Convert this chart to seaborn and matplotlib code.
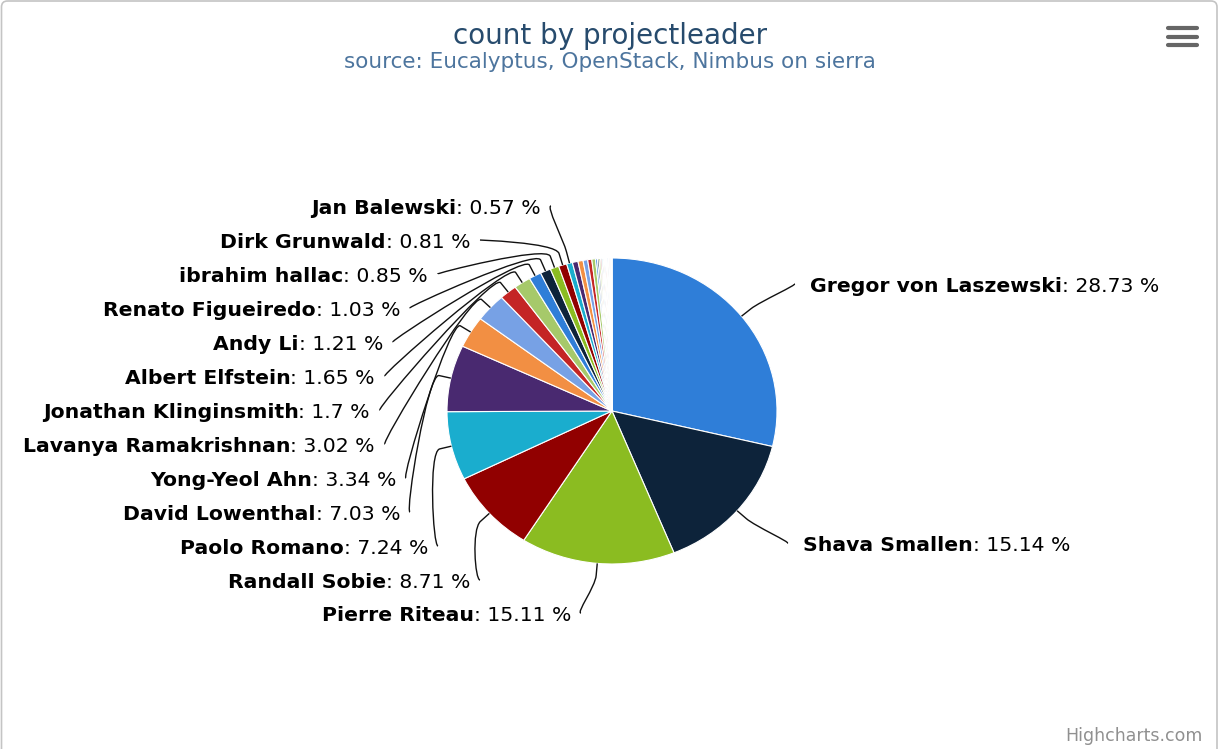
import matplotlib

matplotlib.use("Agg")
import matplotlib.pyplot as plt
import numpy as np
import seaborn as sns
from matplotlib.patches import FancyBboxPatch, PathPatch
from matplotlib.path import Path


W, H = 1219, 749

# Data: share of count per project leader (percent), clockwise from 12 o'clock
LEADERS = [
    "Gregor von Laszewski",
    "Shava Smallen",
    "Pierre Riteau",
    "Randall Sobie",
    "Paolo Romano",
    "David Lowenthal",
    "Yong-Yeol Ahn",
    "Lavanya Ramakrishnan",
    "Jonathan Klinginsmith",
    "Albert Elfstein",
    "Andy Li",
    "Renato Figueiredo",
    "ibrahim hallac",
    "Dirk Grunwald",
    "Jan Balewski",
]
SHARES = [28.73, 15.14, 15.11, 8.71, 7.24, 7.03, 3.34, 3.02, 1.7, 1.65, 1.21, 1.03, 0.85, 0.81, 0.57]

# remaining small leaders, no labels shown in the chart
OTHER_SHARES = [0.55, 0.50, 0.45, 0.40, 0.36, 0.18, 0.16, 0.15, 0.13, 0.12, 0.11,
                0.10, 0.09, 0.08, 0.08, 0.07, 0.06, 0.06, 0.05, 0.05, 0.04, 0.04, 0.03]

PALETTE = ["#2f7ed8", "#0d233a", "#8bbc21", "#910000", "#1aadce",
           "#492970", "#f28f43", "#77a1e5", "#c42525", "#a6c96a"]

# Layout (pixels)
PIE_CX, PIE_CY = 612, 411
PIE_RX, PIE_RY = 165, 153
CONNECTOR_OFFSET = 12

# label anchor: x of the text edge nearest the pie, y of text centre
LABEL_X = [810, 803, 571, 470, 428, 400, 396, 375, 370, 375, 383, 400, 428, 470, 541]
LABEL_Y = [285, 544, 614, 581, 547, 513, 479, 445, 411, 377, 343, 309, 275, 241, 207]

LABEL_SIZE = 14.7


def draw_connector(ax, start_x, y, side, theta):
    # soft connector: label -> break point outside pie -> slice edge
    ux, uy = np.sin(theta), -np.cos(theta)
    edge = (PIE_CX + PIE_RX * ux, PIE_CY + PIE_RY * uy)
    brk = (edge[0] + CONNECTOR_OFFSET * ux, edge[1] + CONNECTOR_OFFSET * uy)
    ctrl2 = (edge[0] + 2 * CONNECTOR_OFFSET * ux, edge[1] + 2 * CONNECTOR_OFFSET * uy)
    ctrl1 = (start_x - 5 * side, y)
    verts = [(start_x, y), ctrl1, ctrl2, brk, edge]
    codes = [Path.MOVETO, Path.CURVE4, Path.CURVE4, Path.CURVE4, Path.LINETO]
    ax.add_patch(PathPatch(Path(verts, codes), fc="none", ec="#111111", lw=1.0, zorder=3))


def main() -> None:
    sns.set_theme(style="white")
    plt.rcParams["font.family"] = ["DejaVu Sans"]

    fig = plt.figure(figsize=(W / 100, H / 100), dpi=100)
    fig.patch.set_facecolor("white")

    # Pie in its own axes, stretched like the reference
    pax = fig.add_axes([(PIE_CX - PIE_RX) / W, 1 - (PIE_CY + PIE_RY) / H,
                        2 * PIE_RX / W, 2 * PIE_RY / H])
    values = SHARES + OTHER_SHARES
    colors = [sns.color_palette(PALETTE)[i % len(PALETTE)] for i in range(len(values))]
    pax.pie(values, colors=colors, startangle=90, counterclock=False, radius=1,
            wedgeprops=dict(edgecolor="white", linewidth=0.8))
    pax.set_aspect("auto")
    pax.set_xlim(-1, 1)
    pax.set_ylim(-1, 1)
    pax.axis("off")

    # Overlay axes in pixel coordinates
    ax = fig.add_axes([0, 0, 1, 1], zorder=2)
    ax.set_xlim(0, W)
    ax.set_ylim(H, 0)
    ax.patch.set_alpha(0)
    ax.axis("off")

    ax.add_patch(FancyBboxPatch((1.5, 1), 1215.5, 780, boxstyle="round,pad=0,rounding_size=6",
                                fc="none", ec="#c4c4c4", lw=1.2, clip_on=False))

    ax.text(610, 44, "count by projectleader", ha="center", va="baseline",
            fontsize=20, color="#274b6d")
    ax.text(610, 68, "source: Eucalyptus, OpenStack, Nimbus on sierra", ha="center",
            va="baseline", fontsize=15.5, color="#4d759e")
    ax.text(1203, 741, "Highcharts.com", ha="right", va="baseline", fontsize=12.5,
            color="#909090")

    for yy in (28, 37, 45):
        ax.plot([1168, 1197], [yy, yy], color="#666666", lw=3, solid_capstyle="round")

    renderer = fig.canvas.get_renderer()
    total = sum(values)
    cum = np.cumsum(values)

    for i, (name, share) in enumerate(zip(LEADERS, SHARES)):
        theta = 2 * np.pi * (cum[i] - share / 2) / total
        x, y = LABEL_X[i], LABEL_Y[i]
        base = y + 7
        value_txt = f": {share:g} %"
        if np.sin(theta) >= 0:
            # right half, text left aligned
            t = ax.text(x, base, name, ha="left", va="baseline", fontsize=LABEL_SIZE,
                        fontweight="bold", color="black")
            w = t.get_window_extent(renderer).width
            ax.text(x + w, base, value_txt, ha="left", va="baseline", fontsize=LABEL_SIZE,
                    color="black")
            draw_connector(ax, x - 16, y - 1, -1, theta)
        else:
            t = ax.text(x, base, value_txt, ha="right", va="baseline", fontsize=LABEL_SIZE,
                        color="black")
            w = t.get_window_extent(renderer).width
            ax.text(x - w, base, name, ha="right", va="baseline", fontsize=LABEL_SIZE,
                    fontweight="bold", color="black")
            draw_connector(ax, x + 10, y - 1, 1, theta)

    fig.savefig("out.png", dpi=100)
    plt.close(fig)


if __name__ == "__main__":
    main()
